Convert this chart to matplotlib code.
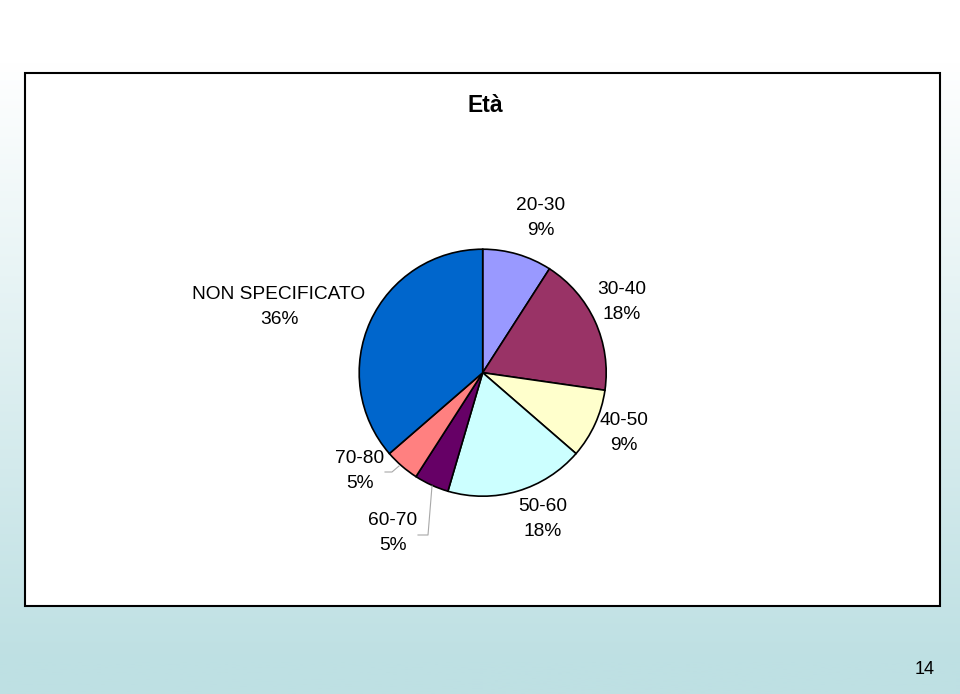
import numpy as np
import matplotlib
matplotlib.use("Agg")
import matplotlib.pyplot as plt
from matplotlib.patches import Rectangle
from matplotlib.colors import LinearSegmentedColormap

plt.rcParams["font.family"] = ["Liberation Sans", "DejaVu Sans"]

# data: counts per age group (shown as rounded percentages)
categories = ["20-30", "30-40", "40-50", "50-60", "60-70", "70-80", "NON SPECIFICATO"]
counts = [2, 4, 2, 4, 1, 1, 8]
colors = ["#9999FF", "#993366", "#FFFFCC", "#CCFFFF", "#660066", "#FF8080", "#0066CC"]
title = "Età"
page_no = "14"

W, H = 960, 694
fig = plt.figure(figsize=(W / 100, H / 100), dpi=100)

# slide background gradient
bg = fig.add_axes([0, 0, 1, 1])
bg.set_axis_off()
grad = np.clip(np.linspace(1, 0, 400) * 1.15 - 0.05, 0, 1)
cmap = LinearSegmentedColormap.from_list("slide", ["#BEE0E3", "#FFFFFF"])
bg.imshow(grad[:, None], aspect="auto", cmap=cmap, extent=[0, 1, 0, 1], vmin=0, vmax=1)
bg.set_xlim(0, 1)
bg.set_ylim(0, 1)

# chart box
bx0, by0, bx1, by1 = 25, 73, 940, 606
bg.add_patch(Rectangle((bx0 / W, 1 - by1 / H), (bx1 - bx0) / W, (by1 - by0) / H,
                       facecolor="white", edgecolor="black", linewidth=1.5, zorder=3))

# pie axes, 1 unit = pie radius in pixels
cx, cy, r = 482.7, 372.7, 123.5
ax = fig.add_axes([0, 0, 1, 1])
ax.set_axis_off()
ax.pie(counts, colors=colors, startangle=90, counterclock=False, radius=1,
       wedgeprops=dict(edgecolor="black", linewidth=1.2))
ax.set_xlim(-cx / r, (W - cx) / r)
ax.set_ylim(-(H - cy) / r, cy / r)
ax.set_aspect("auto")


def px(x, y):
    return (x - cx) / r, (cy - y) / r


total = sum(counts)
label_pos = [(541, 218), (622, 302), (624, 433), (543, 519), (393, 533), (360, 471), (279, 307)]
for cat, n, (lx, ly) in zip(categories, counts, label_pos):
    ax.text(*px(lx, ly), f"{cat}\n{round(100 * n / total):.0f}%", ha="center", va="center",
            fontsize=13.8, linespacing=1.68)

# leader lines for the small slices
for pts in ([(399, 466), (392, 472), (385, 472)], [(432, 486), (428, 535), (418, 535)]):
    xs, ys = zip(*[px(*p) for p in pts])
    ax.plot(xs, ys, color="#A8A8A8", linewidth=0.8)

fig.text(485 / W, 1 - 105 / H, title, ha="center", va="center", fontsize=16.5, fontweight="bold")
fig.text(925 / W, 1 - 669 / H, page_no, ha="center", va="center", fontsize=13)

fig.savefig("out.png", dpi=100)
